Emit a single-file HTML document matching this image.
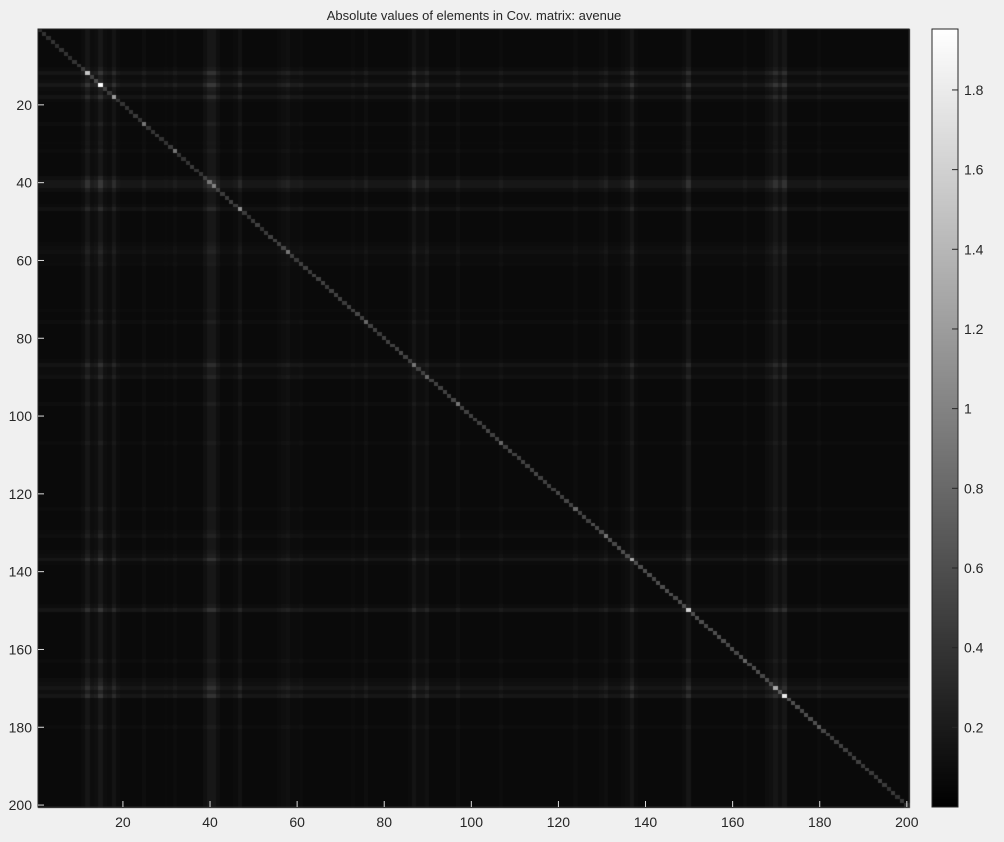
<!DOCTYPE html>
<html><head><meta charset="utf-8"><style>
body{margin:0;background:#f0f0f0;font-family:"Liberation Sans",sans-serif;}
#wrap{position:relative;width:1004px;height:842px;overflow:hidden;}
.t{position:absolute;font-size:13px;color:#262626;}
</style></head><body>
<div id="wrap">
<div class="t" style="left:0;width:948px;text-align:center;top:8px;">Absolute values of elements in Cov. matrix: avenue</div>
<canvas id="c" width="1004" height="842" style="position:absolute;left:0;top:0"></canvas>
<svg id="s" width="1004" height="842" style="position:absolute;left:0;top:0"></svg>
</div>
<script>
const diagValues=[.35,.4,.35,.4,.35,.4,.4,.35,.4,.4,.45,1.5,.5,.6,1.95,.5,.45,1.2,.4,.4,
.4,.4,.45,.4,.9,.4,.4,.45,.4,.4,.45,.9,.4,.4,.4,.45,.4,.4,.5,.9,
1.0,.5,.45,.45,.5,.45,1.1,.45,.4,.45,.5,.4,.45,.5,.5,.5,.55,.9,.5,.45,
.5,.5,.45,.5,.5,.5,.45,.5,.5,.5,.45,.5,.5,.55,.5,.8,.5,.5,.45,.5,
.5,.5,.5,.55,.5,.5,.9,.5,.5,.8,.5,.5,.5,.5,.5,.55,.9,.5,.5,.5,
.5,.5,.5,.55,.5,.5,.8,.5,.55,.5,.5,.5,.5,.5,.55,.5,.5,.5,.5,.55,
.5,.55,.5,.8,.5,.55,.5,.6,.55,.6,.9,.6,.55,.6,.6,.6,1.3,.6,.6,.6,
.6,.55,.6,.6,.6,.6,.55,.6,.6,1.6,.6,.6,.6,.55,.6,.6,.6,.6,.55,.6,
.55,.6,.8,.55,.6,.6,.55,.6,.6,1.3,.7,1.8,.6,.6,.6,.55,.6,.6,.6,.7,
.55,.5,.5,.5,.5,.5,.45,.5,.5,.45,.5,.45,.45,.5,.45,.4,.45,.4,.45,.35];
const stripeLevels=[1,1,1,1,1,1,1,1,1,1,1.3,2.2,1.3,1.5,2.5,1.4,1.2,2,1.2,1,
1,1,1,1,1.4,1,1,1,1,1.1,1,1.3,1,1,1,1,1,1,1.6,2.3,
2.3,1.5,1,1,1,1.2,1.8,1,1,1,1,1,1,1,1,1.2,1.4,1.6,1.2,1.2,
1.3,1,1,1,1,1,1,1,1,1,1,1,1.2,1,1,1.4,1,1,1,1,
1,1,1,1,1,1.2,2,1.3,1.3,1.7,1,1,1,1,1,1,1.4,1,1,1,
1,1,1,1,1,1,1.3,1,1,1,1,1,1,1,1,1,1,1,1,1,
1,1,1,1.3,1,1,1,1,1,1.2,1.5,1,1,1,1.2,1.4,2.2,1.2,1,1,
1,1,1,1,1,1,1,1,1.3,2.2,1,1,1,1,1,1,1,1,1,1,
1,1,1.3,1,1,1,1,1.4,1.6,2.2,1.5,2.2,1,1,1,1,1,1,1,1.3,
1,1,1,1,1,1,1,1,1,1,1,1,1,1,1,1,1,1,1,1];
const xTicks=[20,40,60,80,100,120,140,160,180,200];
const yTicks=[20,40,60,80,100,120,140,160,180,200];
const cbTicks=[0.2,0.4,0.6,0.8,1,1.2,1.4,1.6,1.8];
const N=diagValues.length, vmax=1.953;
const L=38,R=909,T=29,B=807;
const xs=k=>L+(k-0.5)*(R-L)/N, ys=k=>T+(k-0.5)*(B-T)/N;
const cw=(R-L)/N, ch=(B-T)/N;
const gray=v=>{const g=Math.round(Math.max(0,Math.min(1,v/vmax))*255);return `rgb(${g},${g},${g})`;};
const ctx=document.getElementById('c').getContext('2d');
for(let i=0;i<N;i++)for(let j=0;j<N;j++){
 const v=i===j?diagValues[i]:0.075*stripeLevels[i]*stripeLevels[j];
 ctx.fillStyle=gray(v);
 ctx.fillRect(Math.floor(xs(j+1)-cw/2),Math.floor(ys(i+1)-ch/2),Math.ceil(cw)+1,Math.ceil(ch)+1);
}
const CL=932,CR=958;
const cbY=v=>B-(v/vmax)*(B-T);
for(let y=T;y<B;y++){ctx.fillStyle=gray((B-y)/(B-T)*vmax);ctx.fillRect(CL,y,CR-CL,1);}
const s=document.getElementById('s'),NS='http://www.w3.org/2000/svg';
function el(tag,a){const e=document.createElementNS(NS,tag);for(const k in a)e.setAttribute(k,a[k]);s.appendChild(e);return e;}
let r=el('rect',{x:L,y:T,width:R-L,height:B-T,fill:'none',stroke:'#262626','stroke-width':1});


let r2=el('rect',{x:CL,y:T,width:CR-CL,height:B-T,fill:'none',stroke:'#262626','stroke-width':1});


xTicks.forEach(v=>{const x=xs(v);
 el('line',{x1:x,x2:x,y1:B,y2:B-6,stroke:'#ddd'});
 const t=el('text',{x:x,y:B+20,'text-anchor':'middle','font-size':14,fill:'#262626','font-family':'Liberation Sans, sans-serif'});t.textContent=v;
 
 });
yTicks.forEach(v=>{const y=ys(v);
 el('line',{x1:L,x2:L+6,y1:y,y2:y,stroke:'#ddd'});
 const t=el('text',{x:L-6,y:y+5,'text-anchor':'end','font-size':14,fill:'#262626','font-family':'Liberation Sans, sans-serif'});t.textContent=v;
 
 });
cbTicks.forEach(v=>{const y=cbY(v);
 el('line',{x1:CR-6,x2:CR,y1:y,y2:y,stroke:'#262626'});
 const t=el('text',{x:CR+6,y:y+5,'font-size':14,fill:'#262626','font-family':'Liberation Sans, sans-serif'});t.textContent=v;
 
 });
</script>
</body></html>
